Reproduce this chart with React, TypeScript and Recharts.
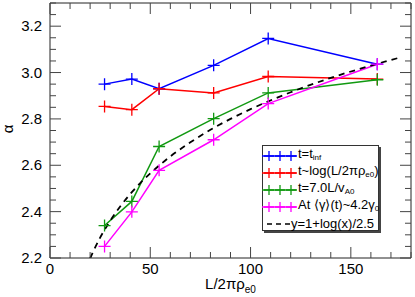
import { ComposedChart, Line, XAxis, YAxis, ReferenceArea, Legend } from "recharts";

// L/2πρe0 values of the runs
const runX = [27.2, 40.8, 54.4, 81.6, 108.8, 163.2];

const alphaTInf = [2.95, 2.972, 2.93, 3.031, 3.147, 3.036];
const alphaTLog = [2.854, 2.84, 2.93, 2.912, 2.983, 2.972];
const alphaT7 = [2.34, 2.444, 2.681, 2.801, 2.912, 2.969];
const alphaGamma = [2.25, 2.399, 2.578, 2.71, 2.866, 3.036];

// dashed reference curve
const fitX = [20, 22, 25, 30, 35, 40, 45, 50, 60, 70, 80, 90, 100, 120, 140, 160, 175];
const fitY = [2.198, 2.236, 2.288, 2.36, 2.422, 2.476, 2.523, 2.565, 2.638, 2.699, 2.753, 2.8, 2.842, 2.915, 2.977, 3.03, 3.066];

const xTicks = [0, 10, 20, 30, 40, 50, 60, 70, 80, 90, 100, 110, 120, 130, 140, 150, 160, 170, 180];
const yTicks = [2.2, 2.25, 2.3, 2.35, 2.4, 2.45, 2.5, 2.55, 2.6, 2.65, 2.7, 2.75, 2.8, 2.85, 2.9, 2.95, 3.0, 3.05, 3.1, 3.15, 3.2, 3.25, 3.3];

const W = 415;
const H = 297;
const MARGIN = { top: 3, right: 4, bottom: 0, left: 0 };
const Y_AXIS_W = 50;
const X_AXIS_H = 39;
const PLOT_TOP = MARGIN.top;
const PLOT_BOTTOM = H - X_AXIS_H;
const PLOT_LEFT = Y_AXIS_W;
const PLOT_RIGHT = W - MARGIN.right;

const FONT = "'Liberation Sans', Arial, Helvetica, sans-serif";

const toPoints = (xs: number[], ys: number[]) => xs.map((x, i) => ({ x, y: ys[i] }));

const series = [
  { key: "inf", color: "#0000ff", data: toPoints(runX, alphaTInf) },
  { key: "log", color: "#ff0000", data: toPoints(runX, alphaTLog) },
  { key: "t7", color: "#119911", data: toPoints(runX, alphaT7) },
  { key: "gamma", color: "#ff00ff", data: toPoints(runX, alphaGamma) },
];
const fitData = toPoints(fitX, fitY);

function Cross({ cx, cy, color, r = 6 }: { cx: number; cy: number; color: string; r?: number }) {
  if (cx == null || cy == null) return null;
  return <path d={`M${cx - r},${cy}h${2 * r}M${cx},${cy - r}v${2 * r}`} stroke={color} strokeWidth={1.3} fill="none" />;
}

function XTick(props: any) {
  const { x, payload } = props;
  const major = payload.value % 50 === 0;
  const len = major ? 11 : 6;
  return (
    <g>
      <line x1={x} x2={x} y1={PLOT_BOTTOM} y2={PLOT_BOTTOM - len} stroke="#444" />
      <line x1={x} x2={x} y1={PLOT_TOP} y2={PLOT_TOP + len} stroke="#444" />
      {major && (
        <text x={x} y={PLOT_BOTTOM + 16} textAnchor="middle" fontSize={15} fontFamily={FONT} fill="#000">
          {payload.value}
        </text>
      )}
    </g>
  );
}

function YTick(props: any) {
  const { y, payload } = props;
  const v = Math.round(payload.value * 100);
  const major = v % 20 === 0;
  const len = major ? 11 : 6;
  return (
    <g>
      <line x1={PLOT_LEFT} x2={PLOT_LEFT + len} y1={y} y2={y} stroke="#444" />
      <line x1={PLOT_RIGHT} x2={PLOT_RIGHT - len} y1={y} y2={y} stroke="#444" />
      {major && v !== 330 && (
        <text x={PLOT_LEFT - 8} y={y + 5} textAnchor="end" fontSize={15} fontFamily={FONT} fill="#000">
          {(v / 100).toFixed(1)}
        </text>
      )}
    </g>
  );
}

const sub = (s: string) => <sub style={{ fontSize: 8, verticalAlign: "-2px" }}>{s}</sub>;

const legendRows = [
  { color: "#0000ff", label: <>t=t{sub("inf")}</> },
  { color: "#ff0000", label: <>t~log(L/2πρ{sub("e0")})</> },
  { color: "#119911", label: <>t=7.0L/v{sub("A0")}</> },
  { color: "#ff00ff", label: <>At ⟨γ⟩(t)~4.2γ{sub("0")}</> },
  { color: "#000", dashed: true, label: <>y=1+log(x)/2.5</> },
];

function LegendBox() {
  return (
    <div
      style={{
        position: "relative",
        width: 117,
        height: 86,
        boxSizing: "border-box",
        border: "1px solid #333",
        boxShadow: "2px 2px 0 #444",
        background: "#fff",
        paddingTop: 2,
        fontFamily: FONT,
        fontSize: 13,
        color: "#000",
      }}
    >
      {legendRows.map((row, i) => (
        <div key={i} style={{ display: "flex", alignItems: "center", height: 16.8, lineHeight: "16px" }}>
          {row.dashed ? (
            <svg width={28} height={16} style={{ flex: "none", marginLeft: -1 }}>
              <line x1={5} x2={28} y1={8} y2={8} stroke={row.color} strokeWidth={1.5} strokeDasharray="5 4" />
            </svg>
          ) : (
            <svg width={35} height={16} style={{ flex: "none", marginLeft: -1 }}>
              <line x1={0} x2={35} y1={8} y2={8} stroke={row.color} strokeWidth={1.3} />
              <Cross cx={7} cy={8} color={row.color} r={5} />
              <Cross cx={18} cy={8} color={row.color} r={5} />
              <Cross cx={29} cy={8} color={row.color} r={5} />
            </svg>
          )}
          <span style={{ whiteSpace: "nowrap", marginLeft: 1 }}>{row.label}</span>
        </div>
      ))}
    </div>
  );
}

export default function App() {
  return (
    <div style={{ position: "absolute", left: 0, top: 0, width: W, height: H, background: "#fff" }}>
      <ComposedChart width={W} height={H} margin={MARGIN}>
        <XAxis
          dataKey="x"
          type="number"
          domain={[0, 180]}
          ticks={xTicks}
          interval={0}
          height={X_AXIS_H}
          tickLine={false}
          axisLine={false}
          tick={<XTick />}
          allowDataOverflow
          label={{
            content: () => (
              <text x={(PLOT_LEFT + PLOT_RIGHT) / 2} y={289} textAnchor="middle" fontSize={15} fontFamily={FONT}>
                L/2πρ
                <tspan fontSize={10} dy={4}>e0</tspan>
              </text>
            ),
          }}
        />
        <YAxis
          type="number"
          domain={[2.2, 3.3]}
          ticks={yTicks}
          interval={0}
          width={Y_AXIS_W}
          tickLine={false}
          axisLine={false}
          tick={<YTick />}
          allowDataOverflow
          label={{
            content: () => (
              <text x={13} y={129} textAnchor="middle" fontSize={15} fontFamily={FONT} transform="rotate(-90 13 129)">
                α
              </text>
            ),
          }}
        />
        <ReferenceArea x1={0} x2={180} y1={2.2} y2={3.3} fill="none" stroke="#222" strokeWidth={1} />
        {series.map((s) => (
          <Line
            key={s.key}
            data={s.data}
            dataKey="y"
            type="linear"
            stroke={s.color}
            strokeWidth={1.5}
            isAnimationActive={false}
            dot={(p: any) => <Cross key={`${s.key}-${p.index}`} cx={p.cx} cy={p.cy} color={s.color} />}
            activeDot={false}
          />
        ))}
        <Line
          data={fitData}
          dataKey="y"
          type="monotone"
          stroke="#000"
          strokeWidth={1.8}
          strokeDasharray="6 5"
          dot={false}
          activeDot={false}
          isAnimationActive={false}
        />
        <Legend
          layout="horizontal"
          verticalAlign="middle"
          align="center"
          content={() => <LegendBox />}
          wrapperStyle={{ position: "absolute", left: 262, top: 145, width: 120, height: 90 }}
        />
      </ComposedChart>
    </div>
  );
}
